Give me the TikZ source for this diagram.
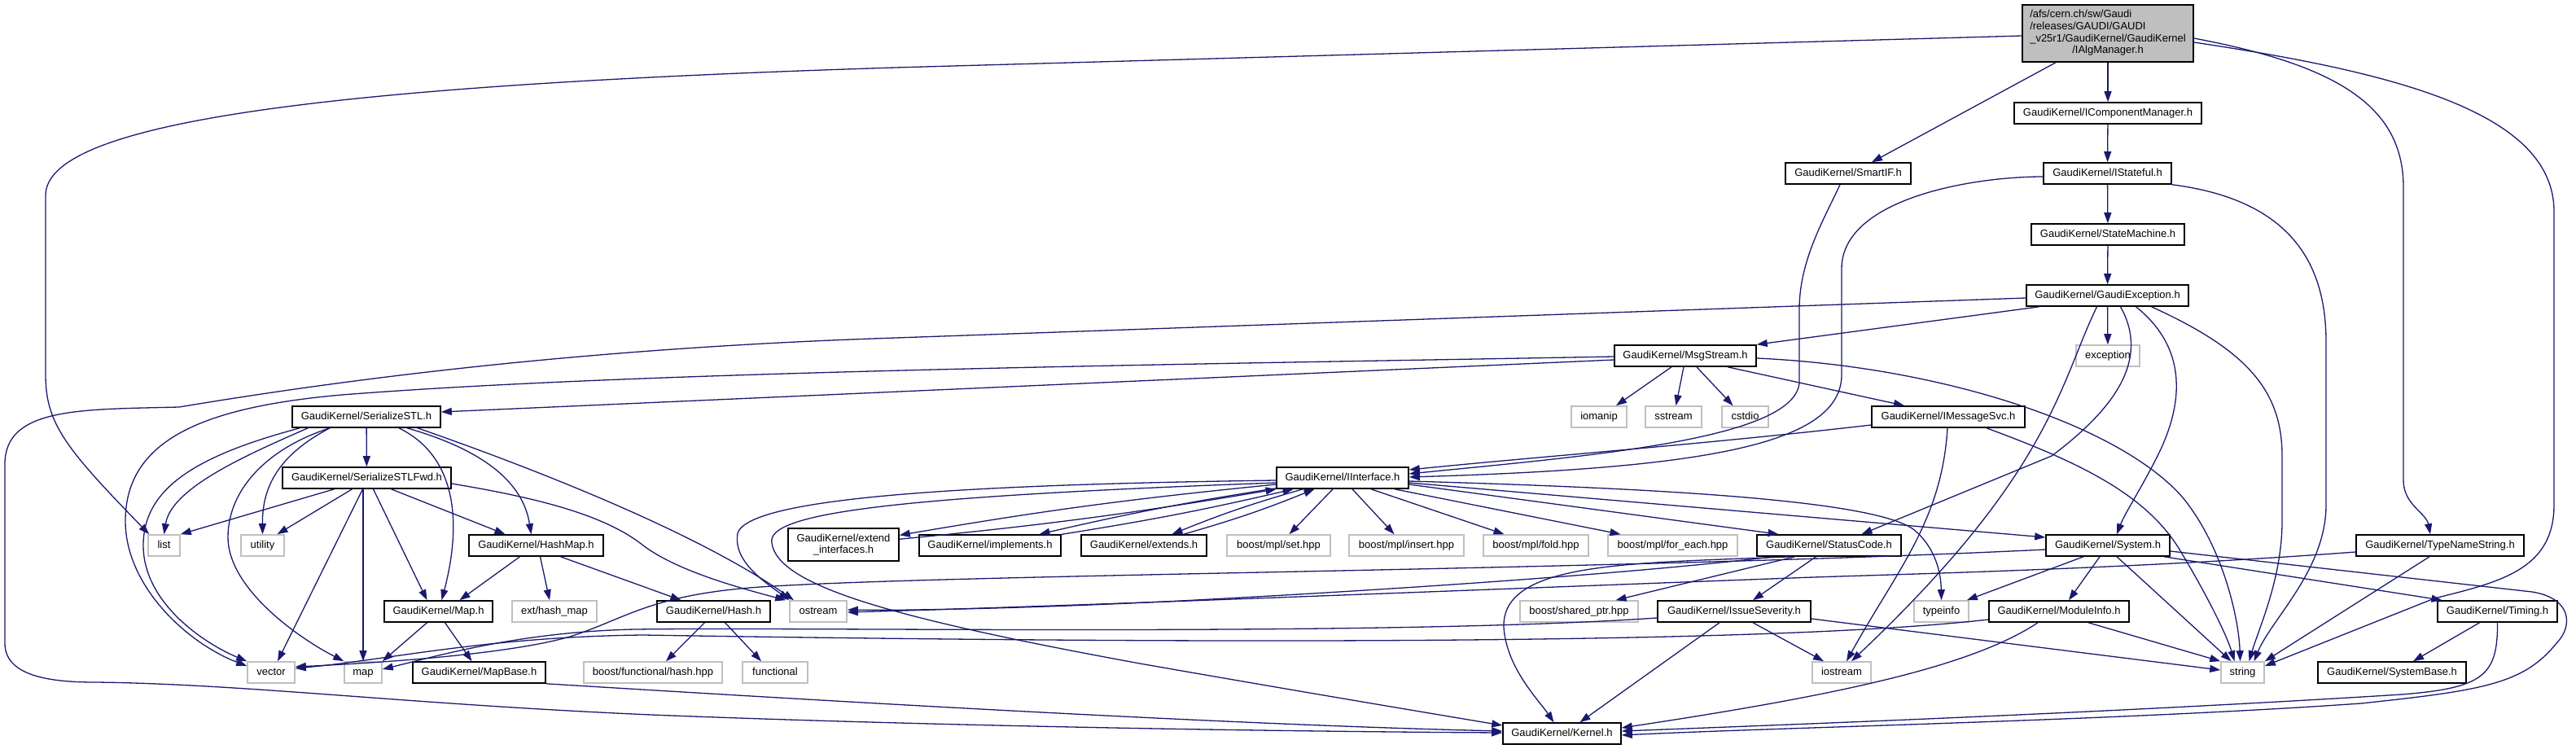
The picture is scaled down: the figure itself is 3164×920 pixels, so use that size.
\documentclass[tikz,border=0pt]{standalone}
\usepackage{fontspec}
\setmainfont{Liberation Sans}
\usetikzlibrary{arrows.meta}
\definecolor{eblue}{HTML}{191970}
\definecolor{xgray}{HTML}{BFBFBF}
\newcommand\nfont{\fontsize{13pt}{14.7pt}\selectfont}
\begin{document}
\begin{tikzpicture}[x=1pt,y=-1pt,
  bx/.style={draw=black, line width=1.6pt, fill=white, inner sep=0pt, font=\nfont},
  nd/.style={bx, minimum height=26pt, text height=9.4pt, text depth=2.8pt},
  xn/.style={nd, draw=xgray},
  e/.style={draw=eblue, line width=1.3pt, -{Triangle[length=13pt,width=9pt]}}]
\useasboundingbox (0,0) rectangle (3164,920);
% ---------------- nodes
\node[bx, fill=xgray, minimum width=210pt, minimum height=70pt] (root) at (2589,41)
 {\begin{tabular}{@{}l@{}}/afs/cern.ch/sw/Gaudi\\/releases/GAUDI/GAUDI\\\_v25r1/GaudiKernel/GaudiKernel\\\multicolumn{1}{@{}c@{}}{/IAlgManager.h}\end{tabular}};
\node[nd, minimum width=230pt] (icm) at (2589,139) {GaudiKernel/IComponentManager.h};
\node[nd, minimum width=154pt] (smartif) at (2270,213) {GaudiKernel/SmartIF.h};
\node[nd, minimum width=157pt] (istateful) at (2588.5,213) {GaudiKernel/IStateful.h};
\node[nd, minimum width=188pt] (statemachine) at (2589,288) {GaudiKernel/StateMachine.h};
\node[nd, minimum width=199pt] (gexc) at (2588.5,363) {GaudiKernel/GaudiException.h};
\node[nd, minimum width=174pt] (msgstream) at (2070,437) {GaudiKernel/MsgStream.h};
\node[xn, minimum width=78pt] (exception) at (2589,437) {exception};
\node[xn, minimum width=68pt] (iomanip) at (1964,512) {iomanip};
\node[xn, minimum width=69pt] (sstream) at (2055.5,512) {sstream};
\node[xn, minimum width=57pt] (cstdio) at (2143.5,512) {cstdio};
\node[nd, minimum width=188pt] (imsgsvc) at (2393,512) {GaudiKernel/IMessageSvc.h};
\node[nd, minimum width=182pt] (serstl) at (450,512) {GaudiKernel/SerializeSTL.h};
\node[nd, minimum width=207pt] (serfwd) at (450.5,587) {GaudiKernel/SerializeSTLFwd.h};
\node[nd, minimum width=162pt] (iinterface) at (1649,587) {GaudiKernel/IInterface.h};
% row 9
\node[xn, minimum width=39pt] (list) at (201.5,670) {list};
\node[xn, minimum width=53pt] (utility) at (322.5,670) {utility};
\node[nd, minimum width=165pt] (hashmap) at (658.5,670) {GaudiKernel/HashMap.h};
\node[bx, minimum width=136pt, minimum height=40pt, align=center] (extif) at (1036,669) {GaudiKernel/extend\\\_interfaces.h};
\node[nd, minimum width=174pt] (implements) at (1216,670) {GaudiKernel/implements.h};
\node[nd, minimum width=154pt] (extends) at (1405,670) {GaudiKernel/extends.h};
\node[xn, minimum width=127pt] (mplset) at (1570.5,670) {boost/mpl/set.hpp};
\node[xn, minimum width=141pt] (mplinsert) at (1727.5,670) {boost/mpl/insert.hpp};
\node[xn, minimum width=129pt] (mplfold) at (1886.5,670) {boost/mpl/fold.hpp};
\node[xn, minimum width=159pt] (mplforeach) at (2054.5,670) {boost/mpl/for\_each.hpp};
\node[nd, minimum width=177pt] (statuscode) at (2246.5,670) {GaudiKernel/StatusCode.h};
\node[nd, minimum width=152pt] (system) at (2589,670) {GaudiKernel/System.h};
\node[nd, minimum width=206pt] (tns) at (2997,670) {GaudiKernel/TypeNameString.h};
% row 10
\node[nd, minimum width=133pt] (maph) at (538.5,751) {GaudiKernel/Map.h};
\node[xn, minimum width=104pt] (exthashmap) at (681,751) {ext/hash\_map};
\node[nd, minimum width=139pt] (hash) at (876.5,751) {GaudiKernel/Hash.h};
\node[xn, minimum width=70pt] (ostream) at (1005,751) {ostream};
\node[xn, minimum width=145pt] (sharedptr) at (1939.5,751) {boost/shared\_ptr.hpp};
\node[nd, minimum width=188pt] (issue) at (2130,751) {GaudiKernel/IssueSeverity.h};
\node[xn, minimum width=67pt] (typeinfo) at (2384.5,751) {typeinfo};
\node[nd, minimum width=172pt] (moduleinfo) at (2529,751) {GaudiKernel/ModuleInfo.h};
\node[nd, minimum width=147pt] (timing) at (3067.5,751) {GaudiKernel/Timing.h};
% row 11
\node[xn, minimum width=58pt] (vector) at (333,826) {vector};
\node[xn, minimum width=46pt] (map) at (446,826) {map};
\node[nd, minimum width=163pt] (mapbase) at (588.5,826) {GaudiKernel/MapBase.h};
\node[xn, minimum width=170pt] (bfhash) at (802,826) {boost/functional/hash.hpp};
\node[xn, minimum width=80pt] (functional) at (952,826) {functional};
\node[xn, minimum width=72pt] (iostream) at (2262,826) {iostream};
\node[xn, minimum width=53pt] (string) at (2754.5,826) {string};
\node[nd, minimum width=182pt] (systembase) at (2938,826) {GaudiKernel/SystemBase.h};
% row 12
\node[nd, minimum width=145pt] (kernel) at (1918.5,901) {GaudiKernel/Kernel.h};
% ---------------- edges
% root
\draw[e] ([yshift=-3pt]root.west) -- (1100,83) .. controls (400,105) and (56,150) .. (56,240) -- (56,460) .. controls (56,520) and (80,550) .. ([xshift=2pt]list.north west);
\draw[e] ([xshift=-64pt]root.south) -- ([xshift=29pt]smartif.north);
\draw[e] (root) -- (icm);
\draw[e] ([yshift=-6pt]root.east) .. controls (2870,80) and (2952,130) .. (2952,230) -- (2952,590) .. controls (2952,620) and (2980,630) .. ([xshift=-12pt]tns.north);
\draw[e] ([yshift=-11pt]root.east) .. controls (2950,90) and (3137,140) .. (3137,260) -- (3137,620) .. controls (3137,700) and (3070,715) .. (2990,735) -- ([yshift=8pt]string.east);
% chain
\draw[e] (icm) -- (istateful);
\draw[e] (istateful) -- (statemachine);
\draw[e] (statemachine) -- (gexc);
\draw[e] (gexc) -- (exception);
% into IInterface from the right
\draw[e] ([xshift=-10pt]smartif.south) .. controls (2240,270) and (2210,320) .. (2210,380) -- (2210,470) .. controls (2205,540) and (1950,560) .. ([yshift=5pt]iinterface.east);
\draw[e] ([yshift=-4pt]istateful.west) .. controls (2420,217) and (2262,245) .. (2262,330) -- (2262,460) .. controls (2262,545) and (2100,575) .. ([yshift=1pt]iinterface.east);
\draw[e] ([yshift=-10pt]imsgsvc.west) .. controls (2100,545) and (1900,560) .. ([yshift=10pt]iinterface.east);
% IStateful -> string
\draw[e] (istateful.south east) .. controls (2810,245) and (2857,320) .. (2857,420) -- (2857,620) .. controls (2857,700) and (2790,760) .. ([xshift=14pt]string.north);
% GaudiException
\draw[e] ([xshift=-84pt]gexc.south) -- (msgstream.north east);
\draw[e] ([yshift=-3pt]gexc.west) -- (1100,415) .. controls (700,428) and (400,470) .. (220,500) .. controls (100,503) and (6,500) .. (6,570) -- (6,790) .. controls (6,830) and (60,838) .. (117,838) .. controls (300,840) and (500,865) .. (800,878) .. controls (1100,890) and (1500,898) .. ([yshift=1pt]kernel.west);
\draw[e] ([xshift=-13pt]gexc.south) .. controls (2530,470) and (2520,580) .. ([xshift=12pt]iostream.north);
\draw[e] ([xshift=16pt]gexc.south) .. controls (2640,440) and (2600,500) .. (2520,560) -- ([xshift=40pt]statuscode.north);
\draw[e] ([xshift=35pt]gexc.south) .. controls (2690,430) and (2680,500) .. (2650,560) .. controls (2630,600) and (2610,630) .. ([xshift=11pt]system.north);
\draw[e] ([xshift=54pt]gexc.south) .. controls (2760,430) and (2803,480) .. (2803,560) -- (2803,640) .. controls (2803,710) and (2775,770) .. ([xshift=8pt]string.north);
% MsgStream
\draw[e] ([xshift=-17pt]msgstream.south) -- ([xshift=21pt]iomanip.north);
\draw[e] ([xshift=-2pt]msgstream.south) -- ([xshift=3pt]sstream.north);
\draw[e] ([xshift=14pt]msgstream.south) -- ([xshift=-15pt]cstdio.north);
\draw[e] ([xshift=52pt]msgstream.south) -- ([xshift=-54pt]imsgsvc.north);
\draw[e] ([yshift=-5pt]msgstream.west) -- ([yshift=6pt]serstl.east);
\draw[e] ([yshift=-1pt]msgstream.west) .. controls (1500,447) and (800,455) .. (420,485) .. controls (250,500) and (154,540) .. (154,640) .. controls (154,720) and (230,790) .. ([yshift=8pt]vector.west);
\draw[e] ([yshift=-3pt]msgstream.east) .. controls (2380,450) and (2600,520) .. (2680,610) .. controls (2730,670) and (2750,760) .. ([xshift=-3pt]string.north);
% IMessageSvc
\draw[e] ([xshift=-1pt]imsgsvc.south) .. controls (2385,640) and (2330,700) .. ([xshift=6pt]iostream.north);
\draw[e] ([xshift=47pt]imsgsvc.south) .. controls (2560,570) and (2640,610) .. (2680,680) .. controls (2710,730) and (2735,780) .. ([xshift=-10pt]string.north);
% IInterface out
\draw[e] ([xshift=-12pt]iinterface.south) -- ([xshift=13pt]mplset.north);
\draw[e] ([xshift=12pt]iinterface.south) -- ([xshift=-15pt]mplinsert.north);
\draw[e] ([xshift=35pt]iinterface.south) -- ([xshift=-39pt]mplfold.north);
\draw[e] ([xshift=64pt]iinterface.south) -- ([xshift=-64pt]mplforeach.north);
\draw[e] ([yshift=-8pt]iinterface.east) -- ([xshift=-62pt]statuscode.north);
\draw[e] ([yshift=-6pt]iinterface.east) -- ([yshift=10pt]system.west);
\draw[e] ([yshift=-4pt]iinterface.east) .. controls (2050,600) and (2300,615) .. (2350,650) .. controls (2375,670) and (2384,700) .. (typeinfo.north);
\draw[e] ([yshift=-3pt]iinterface.west) .. controls (1200,595) and (920,610) .. (906,655) .. controls (900,690) and (940,715) .. (ostream.north west);
\draw[e] ([yshift=-6pt]iinterface.west) .. controls (1100,610) and (940,630) .. (948,667) .. controls (955,720) and (1100,760) .. (1400,815) .. controls (1600,850) and (1750,875) .. ([yshift=10pt]kernel.west);
\draw[e] (iinterface) to[bend right=2] (extif);
\draw[e] (extif) to[bend right=2] (iinterface);
\draw[e] (iinterface) to[bend right=2] (implements);
\draw[e] (implements) to[bend right=2] (iinterface);
\draw[e] (iinterface) to[bend right=3] (extends);
\draw[e] (extends) to[bend right=3] (iinterface);
% SerializeSTL
\draw[e] (serstl) -- (serfwd);
\draw[e] ([xshift=20pt]serstl.south west) .. controls (300,560) and (210,600) .. (list.north);
\draw[e] ([xshift=10pt]serstl.south west) .. controls (240,560) and (176,600) .. (176,670) .. controls (176,740) and (250,790) .. (vector.north west);
\draw[e] ([xshift=-45pt]serstl.south) .. controls (340,560) and (322,600) .. (utility.north);
\draw[e] ([xshift=-45pt]serstl.south) .. controls (330,550) and (280,600) .. (280,660) .. controls (280,720) and (360,780) .. (map.north west);
\draw[e] ([xshift=40pt]serstl.south) .. controls (560,560) and (568,640) .. ([xshift=4pt]maph.north);
\draw[e] ([xshift=50pt]serstl.south) .. controls (620,560) and (645,610) .. ([xshift=-6pt]hashmap.north);
\draw[e] ([xshift=63pt]serstl.south) .. controls (640,570) and (850,650) .. ([xshift=-30pt]ostream.north);
% SerializeSTLFwd
\draw[e] ([xshift=-40pt]serfwd.south) -- (list.north east);
\draw[e] ([xshift=-18pt]serfwd.south) -- ([xshift=18pt]utility.north);
\draw[e] ([xshift=-5pt]serfwd.south) -- ([xshift=8pt]vector.north);
\draw[e] ([xshift=-4.5pt]serfwd.south) -- (map.north);
\draw[e] ([xshift=8pt]serfwd.south) -- ([xshift=-14pt]maph.north);
\draw[e] ([xshift=30pt]serfwd.south) -- ([xshift=-38pt]hashmap.north);
\draw[e] ([yshift=-7pt]serfwd.east) .. controls (650,610) and (740,630) .. (790,670) .. controls (830,700) and (900,720) .. ([xshift=-4pt]ostream.north west);
% HashMap, Map, Hash
\draw[e] ([xshift=-20pt]hashmap.south) -- ([xshift=26pt]maph.north);
\draw[e] ([xshift=5pt]hashmap.south) -- ([xshift=-6pt]exthashmap.north);
\draw[e] ([xshift=30pt]hashmap.south) -- ([xshift=-40pt]hash.north);
\draw[e] ([xshift=-14pt]maph.south) -- (map.north east);
\draw[e] ([xshift=8pt]maph.south) -- ([xshift=-9pt]mapbase.north);
\draw[e] ([xshift=-11pt]hash.south) -- ([xshift=16pt]bfhash.north);
\draw[e] ([xshift=14pt]hash.south) -- ([xshift=-17pt]functional.north);
\draw[e] (mapbase.south east) .. controls (1000,860) and (1500,890) .. ([yshift=3pt]kernel.west);
% StatusCode
\draw[e] ([xshift=-16pt]statuscode.south) -- ([xshift=23pt]issue.north);
\draw[e] ([xshift=-42pt]statuscode.south) -- ([xshift=45pt]sharedptr.north);
\draw[e] ([xshift=-47pt]statuscode.south) .. controls (2000,692) and (1845,690) .. (1847,770) .. controls (1850,820) and (1890,860) .. ([xshift=-10pt]kernel.north);
\draw[e] ([xshift=-68pt]statuscode.south) .. controls (2000,705) and (1700,725) .. (1450,738) .. controls (1250,748) and (1100,750) .. ([yshift=2pt]ostream.east);
% IssueSeverity
\draw[e] ([xshift=-18pt]issue.south) -- ([xshift=22pt]kernel.north);
\draw[e] ([xshift=23pt]issue.south) -- ([xshift=-22pt]iostream.north);
\draw[e] ([yshift=-9pt]issue.east) -- ([yshift=3pt]string.west);
\draw[e] ([yshift=-8pt]issue.west) .. controls (1700,782) and (1000,770) .. (780,773) .. controls (640,776) and (540,805) .. ([yshift=4pt]map.east);
% System
\draw[e] ([xshift=-30pt]system.south) -- ([xshift=-3pt]typeinfo.north east);
\draw[e] ([xshift=-10pt]system.south) -- ([xshift=12pt]moduleinfo.north);
\draw[e] ([xshift=11pt]system.south) -- ([xshift=-14pt]string.north);
\draw[e] ([xshift=69pt]system.south) -- ([xshift=-68pt]timing.north);
\draw[e] ([yshift=-7pt]system.east) -- (3110,727) .. controls (3160,735) and (3160,770) .. (3140,790) .. controls (3100,840) and (3050,848) .. (2900,864) .. controls (2600,885) and (2200,893) .. ([yshift=-2pt]kernel.east);
\draw[e] ([yshift=-5pt]system.west) .. controls (2000,700) and (1200,705) .. (950,720) .. controls (800,728) and (770,760) .. (700,782) .. controls (620,805) and (450,815) .. ([yshift=7pt]vector.east);
% ModuleInfo
\draw[e] ([xshift=36pt]moduleinfo.south) -- (string.north west);
\draw[e] ([xshift=-26pt]moduleinfo.south) .. controls (2420,820) and (2250,855) .. ([yshift=7pt]kernel.east);
\draw[e] ([yshift=-10pt]moduleinfo.west) .. controls (2100,800) and (1100,785) .. (790,780) .. controls (600,782) and (480,810) .. ([yshift=5pt]vector.east);
% Timing
\draw[e] ([xshift=-22pt]timing.south) -- ([xshift=26pt]systembase.north);
\draw[e] (timing.south) .. controls (3068,830) and (3050,845) .. (2950,853) .. controls (2600,875) and (2200,890) .. ([yshift=3pt]kernel.east);
% TypeNameString
\draw[e] ([xshift=-13pt]tns.south) -- (string.north east);
\draw[e] ([yshift=-8pt]tns.west) .. controls (2600,700) and (2300,706) .. (2200,710) .. controls (1800,725) and (1300,745) .. ([yshift=-1pt]ostream.east);
\end{tikzpicture}
\end{document}
